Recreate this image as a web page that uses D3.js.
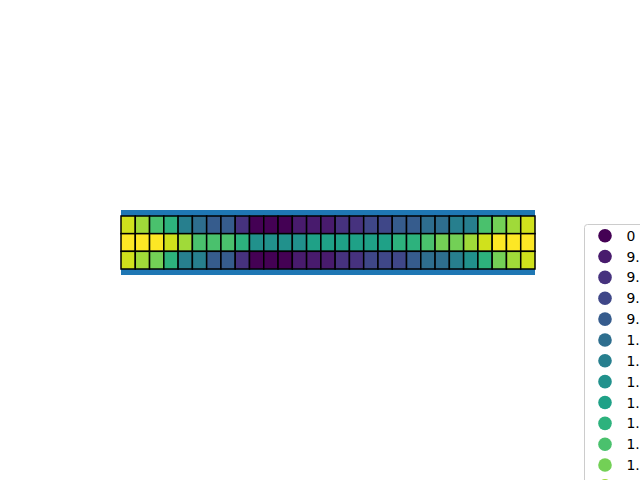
<!DOCTYPE html>
<html>
<head>
<meta charset="utf-8">
<script src="https://cdn.jsdelivr.net/npm/d3@7"></script>
<style>
  html, body { margin: 0; padding: 0; background: #fff; }
  svg { display: block; font-family: "DejaVu Sans", sans-serif; }
</style>
</head>
<body>
<svg id="chart" width="640" height="480"></svg>
<script>
// Distinct values (sorted ascending) and their legend labels
const levelValues = [0, 9.2e-5, 9.4e-5, 9.6e-5, 9.8e-5, 1.00e-4, 1.02e-4, 1.04e-4, 1.06e-4, 1.08e-4, 1.10e-4, 1.12e-4, 1.14e-4, 1.16e-4, 1.18e-4];
const levelLabels = ["0", "9.2e-05", "9.4e-05", "9.6e-05", "9.8e-05", "1.00e-04", "1.02e-04", "1.04e-04", "1.06e-04", "1.08e-04", "1.10e-04", "1.12e-04", "1.14e-04", "1.16e-04", "1.18e-04"];

// Grid cells: index into levelValues, one array per row (29 columns)
const row0 = [13,12,10,9,6,5,4,4,2,0,0,0,1,1,1,2,2,3,3,4,4,5,5,6,6,10,11,12,13];
const row1 = [14,14,14,13,12,10,10,10,9,7,7,7,7,8,8,8,8,8,8,9,9,10,11,11,12,13,14,14,14];
const row2 = [13,12,11,9,6,6,4,4,2,0,0,0,1,1,1,2,2,3,3,3,4,5,5,6,7,9,11,12,13];
const rows = [row0, row1, row2];
const columns = d3.range(row0.length);

const svg = d3.select("#chart");

const gridLeft = 121, gridRight = 535, gridTop = 216, gridBottom = 269;

const x = d3.scaleBand().domain(columns).range([gridLeft, gridRight]).padding(0);
const y = d3.scaleBand().domain(d3.range(rows.length)).range([gridTop, gridBottom]).padding(0);
const color = d3.scaleOrdinal()
  .domain(levelValues)
  .range(levelValues.map((_, i) => d3.interpolateViridis(i / (levelValues.length - 1))));

// axes background
svg.append("rect")
  .attr("x", gridLeft).attr("y", 210)
  .attr("width", gridRight - gridLeft).attr("height", 275 - 210)
  .attr("fill", "#1f77b4");

const cells = [];
rows.forEach((r, ri) => r.forEach((lv, ci) => cells.push({ row: ri, col: ci, value: levelValues[lv] })));

svg.append("g").selectAll("rect")
  .data(cells)
  .join("rect")
  .attr("x", d => x(d.col))
  .attr("y", d => y(d.row))
  .attr("width", x.bandwidth())
  .attr("height", y.bandwidth())
  .attr("fill", d => color(d.value))
  .attr("stroke", "#000")
  .attr("stroke-width", 1.5);

// Legend
const lg = svg.append("g");
const legTop = 224, legLeft = 584, rowH = 20.85;
lg.append("rect")
  .attr("x", legLeft + 0.5).attr("y", legTop + 0.5)
  .attr("width", 120).attr("height", levelValues.length * rowH + 12)
  .attr("rx", 3).attr("ry", 3)
  .attr("fill", "#fff").attr("fill-opacity", 0.8)
  .attr("stroke", "#cccccc").attr("stroke-width", 1);

const items = lg.selectAll("g.item")
  .data(levelValues.map((v, i) => ({ v, label: levelLabels[i], i })))
  .join("g")
  .attr("transform", d => `translate(0,${legTop + 11.7 + d.i * rowH})`);

items.append("circle")
  .attr("cx", 605).attr("cy", 0).attr("r", 6.8)
  .attr("fill", d => color(d.v));

items.append("text")
  .attr("x", 626.5).attr("y", 5)
  .attr("font-size", 13.9)
  .attr("fill", "#000")
  .text(d => d.label);
</script>
</body>
</html>
